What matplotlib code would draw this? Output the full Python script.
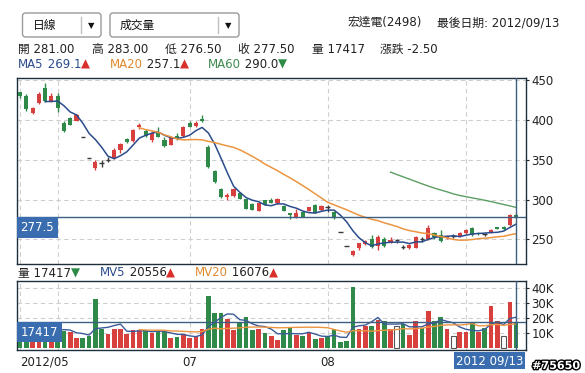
import numpy as np
import pandas as pd
import matplotlib
matplotlib.use("Agg")
import matplotlib.pyplot as plt
import matplotlib.transforms as mtransforms
from matplotlib import patheffects
from matplotlib.patches import FancyBboxPatch

plt.rcParams['font.family'] = ['DejaVu Sans', 'Noto Sans CJK TC']

# HTC (2498) daily bars, 2012/05/24 - 2012/09/13
opens = [434.5, 430.5, 408.5, 421.5, 439.5, 423, 430.5, 396, 402, 399,
         378, 351.5, 340, 345.5, 349.5, 352, 362.5, 375.5, 373.5, 391,
         386, 374.5, 385, 375, 368.5, 380, 380, 395.5, 392.5, 401,
         366, 336, 313.5, 303.5, 304.5, 308.5, 300.5, 294, 286, 299.5,
         299.5, 295, 292, 282.5, 277.5, 284.5, 286, 293, 287, 290,
         284.5, 259, 241, 230.5, 238.5, 244, 250.5, 241, 251, 246,
         249, 240, 238.5, 239.5, 250, 250, 257.5, 255.5, 252, 254,
         254, 257.5, 264, 258.5, 256.5, 259, 265, 266, 268, 281]
highs = [435.5, 432.5, 416.5, 435.5, 446, 433.5, 433.5, 398, 403, 407.5,
         378, 351.5, 349.5, 349.5, 354, 364.5, 371.5, 377, 388, 396.5,
         389, 386, 391.5, 378, 378.5, 383, 392.5, 398, 398.5, 406,
         368, 337, 315, 308.5, 315, 309.5, 301, 295, 297, 300,
         301.5, 301.5, 293, 283.5, 287.5, 285.5, 291, 294, 292.5, 293,
         285.5, 259, 241, 236.5, 246, 249.5, 255.5, 255.5, 252.5, 253,
         251, 243, 243.5, 254, 252.5, 268, 259.5, 261.5, 255.5, 256.5,
         259.5, 263.5, 266, 259.5, 258.5, 263.5, 266, 266.5, 282, 283]
lows = [428, 411.5, 407.5, 419.5, 423, 422, 409.5, 385, 393, 398,
        378, 351.5, 336.5, 341, 346.5, 351, 358, 371.5, 372.5, 388.5,
        379, 372.5, 378, 366.5, 368, 374.5, 379, 390.5, 391.5, 397.5,
        339.5, 320.5, 302.5, 299.5, 303.5, 300.5, 288, 286.5, 285.5, 293,
        295, 294.5, 285.5, 275, 277, 277.5, 285.5, 282.5, 286, 284.5,
        275, 259, 241, 229, 236.5, 243, 239, 236.5, 240.5, 245,
        245, 237.5, 238, 238.5, 247, 249, 251, 247, 251, 252,
        253.5, 256.5, 254.5, 255.5, 254.5, 258.5, 262.5, 262, 267, 276.5]
closes = [429.5, 413.5, 415.5, 432.5, 424, 430.5, 415.5, 386, 393.5, 406,
          378, 351.5, 347.5, 345.5, 349.5, 362.5, 370, 372, 387.5, 393.5,
          380, 384, 378.5, 367.5, 378, 375.5, 391, 391.5, 396.5, 398,
          340.5, 321.5, 303.5, 305.5, 313.5, 301, 288.5, 287, 296, 293.5,
          296, 300.5, 286, 280.5, 282.5, 278.5, 290, 283.5, 291.5, 290,
          278.5, 259, 241, 235.5, 245, 248, 240, 252.5, 242, 249,
          249, 240, 243, 252.5, 250, 264, 252.5, 248, 254, 254,
          258.5, 261.5, 255.5, 257, 256.5, 262, 263, 263, 280, 277.5]
volumes = [15200, 13800, 9800, 12500, 16000, 9300, 12800, 11500, 10800, 7200,
           6800, 7900, 32600, 13000, 9400, 12600, 12600, 9400, 11900, 11900,
           11900, 10000, 11500, 10800, 6800, 7700, 9400, 6800, 8300, 13000,
           34500, 23300, 23300, 19500, 12100, 16500, 20800, 12100, 12600, 10000,
           8300, 5500, 12100, 13400, 9100, 8300, 10400, 6100, 6800, 7900,
           12600, 4000, 5000, 40500, 12600, 15000, 15000, 19000, 18400, 13000,
           14800, 16335, 8700, 18400, 13200, 24400, 18400, 20700, 12600, 8300,
           10800, 10800, 17300, 10800, 13200, 27900, 18400, 8300, 30765, 17417]
first_prev_close = 433.0
ticker = "宏達電(2498)"

# trading calendar (TWSE closed 2012/08/02, typhoon Saola)
dates = pd.bdate_range("2012-05-24", "2012-09-13").drop(pd.Timestamp("2012-08-02"))

o = np.array(opens); h = np.array(highs); l = np.array(lows); c = np.array(closes)
v = np.array(volumes, dtype=float)
x = np.arange(len(c))

RED, GREEN, DOJI = '#d8403e', '#2f8a4a', '#3a3a3a'
LINE = '#3d5f80'
FRAME = '#1f2e3c'
GRID = '#cfcfcf'

W, H = 585, 373
fig = plt.figure(figsize=(W / 100, H / 100), dpi=100)
ax = fig.add_axes([17 / W, 1 - 264 / H, (526 - 17) / W, (264 - 78) / H])
axv = fig.add_axes([17 / W, 1 - 350 / H, (526 - 17) / W, (350 - 281) / H])

# --- price panel ---
cols = np.where(c > o, RED, np.where(c < o, GREEN, DOJI))
ax.vlines(x, l, h, colors=cols, lw=1, zorder=3)
body = c != o
ax.bar(x[body], np.abs(c - o)[body], bottom=np.minimum(o, c)[body], width=0.66,
       color=cols[body], lw=0, zorder=4)
ax.hlines(c[~body], x[~body] - 0.36, x[~body] + 0.36, colors=DOJI, lw=1, zorder=4)

s = pd.Series(c)
ma5 = s.rolling(5).mean(); ma20 = s.rolling(20).mean(); ma60 = s.rolling(60).mean()
ax.plot(x, ma5, color='#2b4c8c', lw=1.1, zorder=5)
ax.plot(x, ma20, color='#ec9541', lw=1.1, zorder=5)
ax.plot(x, ma60, color='#5c9e62', lw=1.0, zorder=5)

month_starts = [0] + [i for i in range(1, len(dates)) if dates[i].month != dates[i - 1].month]
for a in (ax, axv):
    for m in month_starts:
        a.axvline(m, color=GRID, lw=0.8, ls=(0, (4, 3)), zorder=0)
    a.axvline(x[-1], color=LINE, lw=1, zorder=6)
    a.set_xlim(-0.48, 80.57)
    a.yaxis.tick_right()
    a.tick_params(axis='y', length=2, pad=2, labelsize=8.5, colors='#222222')
    a.tick_params(axis='x', length=0)
    for sp in a.spines.values():
        sp.set_color(FRAME)
        sp.set_linewidth(1)
    a.grid(axis='y', color=GRID, lw=0.8, ls=(0, (4, 3)))
    a.set_axisbelow(True)

ax.set_ylim(219, 452.6)
ax.set_yticks([250, 300, 350, 400, 450])
ax.set_xticks([])
ax.axhline(c[-1], color=LINE, lw=1, zorder=6)
ytrans = mtransforms.blended_transform_factory(ax.transAxes, ax.transData)
ax.annotate(f"{c[-1]:g}", xy=(0, c[-1]), xycoords=ytrans, xytext=(2.6, -2.6),
            textcoords='offset points', ha='left', va='top', color='white', fontsize=8.5,
            bbox=dict(boxstyle='square,pad=0.3', fc='#3a6db0', ec='none'), zorder=8)

# --- volume panel ---
chg = np.diff(np.concatenate([[first_prev_close], c]))
vface = np.where(chg > 0, RED, np.where(chg < 0, GREEN, 'white'))
vedge = np.where(chg == 0, '#555555', 'none')
axv.bar(x, v, width=0.74, color=vface, edgecolor=vedge, lw=0.8, zorder=3)
sv = pd.Series(v)
mv5 = sv.rolling(5).mean(); mv20 = sv.rolling(20).mean()
axv.plot(x, mv5, color='#3c5a99', lw=1.0, zorder=5)
axv.plot(x, mv20, color='#ec9541', lw=1.0, zorder=5)
axv.axhline(v[-1], color=LINE, lw=1, zorder=6)
axv.set_ylim(-1000, 44400)
axv.set_yticks([10000, 20000, 30000, 40000])
axv.set_yticklabels(['10K', '20K', '30K', '40K'])
vtrans = mtransforms.blended_transform_factory(axv.transAxes, axv.transData)
axv.annotate(f"{v[-1]:.0f}", xy=(0, v[-1]), xycoords=vtrans, xytext=(2.6, -2.6),
             textcoords='offset points', ha='left', va='top', color='white', fontsize=8.5,
             bbox=dict(boxstyle='square,pad=0.3', fc='#3a6db0', ec='none'), zorder=8)

lab_idx = [0, month_starts[2], month_starts[3]]
axv.set_xticks(lab_idx)
axv.set_xticklabels([dates[0].strftime('%Y/%m')] + [dates[i].strftime('%m') for i in lab_idx[1:]],
                    fontsize=8.5, color='#222222')
axv.get_xticklabels()[0].set_horizontalalignment('left')
axv.tick_params(axis='x', pad=4)
axv.annotate(dates[-1].strftime('%Y %m/%d'), xy=(1, 0), xycoords='axes fraction',
             xytext=(-2, -3), textcoords='offset points', ha='right', va='top',
             color='white', fontsize=8.5,
             bbox=dict(boxstyle='square,pad=0.18', fc='#3a6db0', ec='none'))


# --- header ---
def px(xp, yp):
    return xp / W, 1 - yp / H


def chain(x0, y0, parts, size=8.5):
    t = fig.text(*px(x0, y0), parts[0][0], color=parts[0][1], fontsize=size,
                 ha='left', va='center')
    for txt, col in parts[1:]:
        t = ax.annotate(txt, xy=(1, 0), xycoords=t, ha='left', va='bottom',
                        color=col, fontsize=size, annotation_clip=False)
    return t


def arrow(series):
    return ('▲', '#d9302c') if series.iloc[-1] >= series.iloc[-2] else ('▼', '#2e8b47')


for bx, bw, div, label in [(22.5, 78.5, 81, "日線"), (110, 129, 218, "成交量")]:
    fig.patches.append(FancyBboxPatch((bx, H - 37), bw, 24,
                                      boxstyle='round,pad=0,rounding_size=3',
                                      fc='white', ec='#9a9a9a', lw=1,
                                      transform=mtransforms.IdentityTransform()))
    fig.lines.append(plt.Line2D([div, div], [H - 33, H - 17], color='#c0c0c0', lw=1,
                                transform=mtransforms.IdentityTransform()))
    fig.text(*px(bx + 10, 25), label, fontsize=8.5, ha='left', va='center', color='#111111')
    fig.text(*px(div + 10, 25.5), '▼', fontsize=6, ha='center', va='center', color='#111111')

fig.text(*px(347, 22.5), ticker, fontsize=8.5, ha='left', va='center', color='#222222')
fig.text(*px(437, 22.5), f"最後日期: {dates[-1].strftime('%Y/%m/%d')}", fontsize=8.5,
         ha='left', va='center', color='#222222')

row1 = [(18, f"開 {o[-1]:.2f}"), (92, f"高 {h[-1]:.2f}"), (165, f"低 {l[-1]:.2f}"),
        (238, f"收 {c[-1]:.2f}"), (312, f"量 {v[-1]:.0f}"), (380, f"漲跌 {c[-1] - c[-2]:.2f}")]
for xp, txt in row1:
    fig.text(*px(xp, 49), txt, fontsize=8.5, ha='left', va='center', color='#222222')

chain(18, 64, [("MA5", '#2b4c8c'), (f" {ma5.iloc[-1]:.1f}", '#2b4c8c'), arrow(ma5)])
chain(110, 64, [("MA20", '#e0892f'), (f" {ma20.iloc[-1]:.1f}", '#222222'), arrow(ma20)])
chain(208, 64, [("MA60", '#3f8a4f'), (f" {ma60.iloc[-1]:.1f}", '#222222'), arrow(ma60)])

vol_arrow = ('▲', '#d9302c') if v[-1] >= v[-2] else ('▼', '#2e8b47')
chain(18, 273, [(f"量 {v[-1]:.0f}", '#222222'), vol_arrow])
chain(100, 273, [("MV5", '#2b4c8c'), (f" {mv5.iloc[-1]:.0f}", '#222222'), arrow(mv5)])
chain(195, 273, [("MV20", '#e0892f'), (f" {mv20.iloc[-1]:.0f}", '#222222'), arrow(mv20)])

fig.text(*px(580, 366), "#75650", fontsize=8, ha='right', va='center', color='white',
         fontweight='bold',
         path_effects=[patheffects.withStroke(linewidth=2, foreground='black')])

fig.savefig("out.png", dpi=100)
